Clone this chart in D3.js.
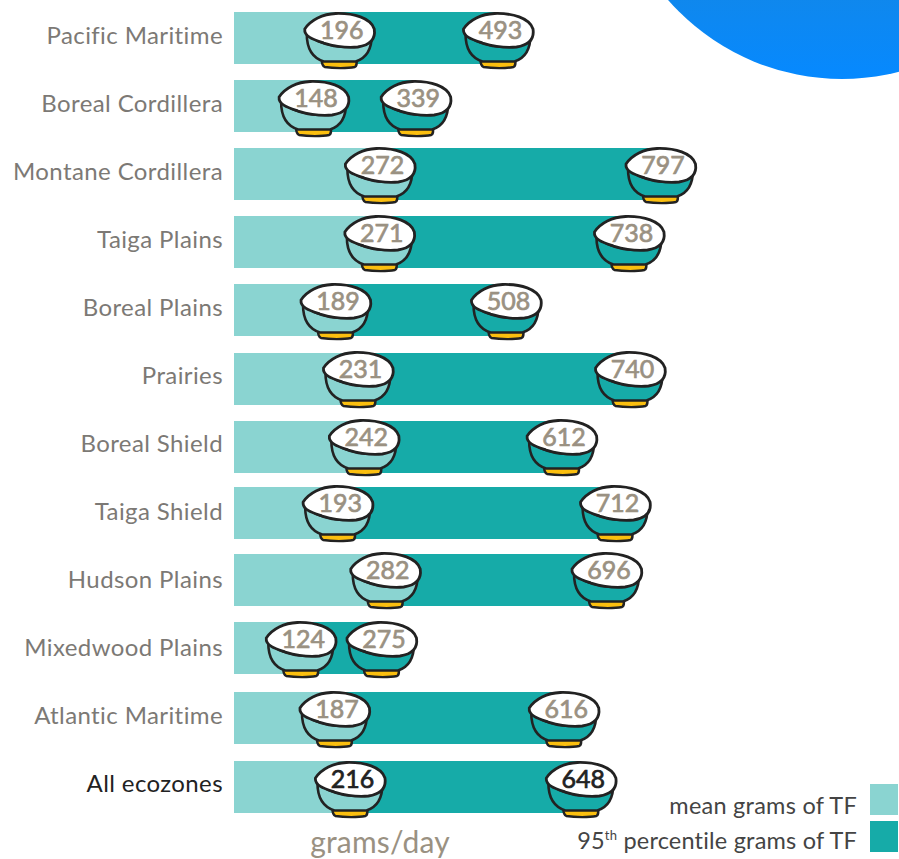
<!DOCTYPE html>
<html><head><meta charset="utf-8">
<script src="https://cdn.jsdelivr.net/npm/d3@7"></script>
<style>html,body{margin:0;background:#fff}svg{display:block}text{font-family:Lato,"Open Sans",sans-serif}</style>
</head><body><div id="c"></div>
<script>
const categories=["Pacific Maritime","Boreal Cordillera","Montane Cordillera","Taiga Plains","Boreal Plains","Prairies","Boreal Shield","Taiga Shield","Hudson Plains","Mixedwood Plains","Atlantic Maritime","All ecozones"];
const meanValues=[196,148,272,271,189,231,242,193,282,124,187,216];
const p95Values=[493,339,797,738,508,740,612,712,696,275,616,648];
const rowTops=[12,80,148,216,284,353,421,487,554,622,692,761];
const bowlTops=[12,80,147,215,283,351,419,485,552,621,691,761];
const legendLabels=["mean grams of TF","percentile grams of TF"];
const W=899,H=859,light="#8AD4D1",dark="#16ABA8",ink="#222222",grey="#9A9182";
const x=d3.scaleLinear().domain([0,797]).range([235,661]);
const y=d3.scaleOrdinal().domain(categories).range(rowTops);
const yBowl=d3.scaleOrdinal().domain(categories).range(bowlTops);
const yLabel=d3.scalePoint().domain(categories).range([44,792]);
const barH=52;
const svg=d3.select("#c").append("svg").attr("width",W).attr("height",H);
const defs=svg.append("defs");
const g=defs.append("linearGradient").attr("id","blue").attr("x1",0).attr("x2",0).attr("y1",0).attr("y2",1);
g.append("stop").attr("offset","0.62").attr("stop-color","#1A86D8");
g.append("stop").attr("offset","1").attr("stop-color","#0689FF");
svg.append("circle").attr("cx",842).attr("cy",-152).attr("r",231).attr("fill","url(#blue)");
const rows=categories.map((c,i)=>({c,m:meanValues[i],p:p95Values[i],last:c==="All ecozones"}));
const bars=svg.selectAll("g.row").data(rows).join("g").attr("class","row").attr("transform",d=>`translate(0,${y(d.c)})`);
bars.append("rect").attr("x",x(0)-1).attr("width",d=>x(d.p)-x(0)+1).attr("height",barH).attr("fill",dark);
bars.append("rect").attr("x",x(0)-1).attr("width",d=>x(d.m)-x(0)+1).attr("height",barH).attr("fill",light);
svg.selectAll("text.cat").data(rows).join("text").attr("class","cat").attr("x",223).attr("y",d=>yLabel(d.c)).attr("text-anchor","end")
 .attr("font-size",24).attr("letter-spacing",.4).attr("fill",d=>d.last?ink:"#7C7975").text(d=>d.c);
const bodyP="M-33,22C-33,37-27,46-16,49.5L16,49.5C27,46,32,36,32,23C20,33,6,36-6,34C-16,32-26,28-33,22Z";
const rimP="M-35,17C-29,8-17,2-4,1.5C14,1,31,6,34.5,17C36,27,31,33,18,35C6,36.5-6,34-16,31C-25,28-36,25-35,17Z";
const footP="M-18,48C-18,52-17,54-15,55C-6,56.5,8,56.5,15,55C17,54,17,52,17,48Z";
const row=svg.selectAll("g.bowls").data(rows).join("g").attr("class","bowls").attr("transform",d=>`translate(0,${yBowl(d.c)})`);
function bowl(sel,val,fill){
 const b=sel.append("g").attr("transform",d=>`translate(${x(val(d))},0)`);
 b.append("path").attr("d",footP).attr("fill","#FBBF0F").attr("stroke",ink).attr("stroke-width",2.4).attr("stroke-linejoin","round");
 b.append("path").attr("d",bodyP).attr("fill",fill).attr("stroke",ink).attr("stroke-width",2.6).attr("stroke-linejoin","round");
 b.append("path").attr("d",rimP).attr("fill","#fff").attr("stroke",ink).attr("stroke-width",2.8);
 b.append("text").attr("x",2).attr("y",27).attr("text-anchor","middle").attr("font-size",25).attr("font-weight",400)
  .attr("stroke",d=>d.last?ink:grey).attr("stroke-width",.7)
  .attr("fill",d=>d.last?ink:grey).text(d=>val(d));
}
bowl(row,d=>d.m,light);
bowl(row,d=>d.p,dark);
svg.append("text").attr("x",380).attr("y",853).attr("text-anchor","middle").attr("font-size",30).attr("letter-spacing",.2).attr("fill",grey).text("grams/day");
svg.append("rect").attr("x",870).attr("y",784).attr("width",28).attr("height",31).attr("fill",light);
svg.append("rect").attr("x",870).attr("y",821).attr("width",28).attr("height",31).attr("fill",dark);
svg.append("text").attr("x",857).attr("y",814).attr("text-anchor","end").attr("font-size",23.5).attr("letter-spacing",.25).attr("fill","#444").text(legendLabels[0]);
const t=svg.append("text").attr("x",857).attr("y",849).attr("text-anchor","end").attr("font-size",23.5).attr("letter-spacing",.2).attr("fill","#444");
t.append("tspan").text("95");
t.append("tspan").attr("font-size",13).attr("dy",-9).text("th");
t.append("tspan").attr("dy",9).text(" "+legendLabels[1]);
</script></body></html>
